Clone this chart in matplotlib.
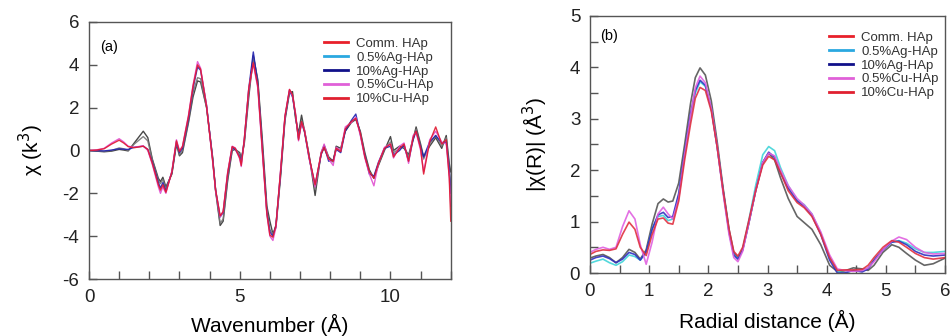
import matplotlib
matplotlib.use("Agg")
import matplotlib.pyplot as plt
from matplotlib.lines import Line2D
from matplotlib.ticker import MultipleLocator

plt.rcParams['font.family'] = ['Liberation Sans', 'DejaVu Sans']
plt.rcParams['axes.unicode_minus'] = False

# ---------------- data: panel (a) ----------------
k = [0, 0.25, 0.5, 0.75, 1.0, 1.15, 1.3, 1.5, 1.8, 1.95, 2.1, 2.3, 2.37, 2.45, 2.55, 2.75,
     2.9, 3.0, 3.1, 3.3, 3.45, 3.6, 3.7, 3.9, 4.1, 4.2, 4.35, 4.45, 4.6, 4.75, 4.85,
     5.0, 5.05, 5.15, 5.3, 5.45, 5.6, 5.75, 5.9, 6.0, 6.1, 6.2, 6.35, 6.5, 6.65, 6.75,
     6.85, 6.95, 7.05, 7.15, 7.3, 7.5, 7.7, 7.8, 7.95, 8.1, 8.2, 8.35, 8.5, 8.7, 8.85,
     9.0, 9.15, 9.3, 9.45, 9.6, 9.8, 10.0, 10.1, 10.3, 10.45, 10.6, 10.75, 10.85, 11.0,
     11.1, 11.3, 11.5, 11.7, 11.85, 11.95, 12.0]

chi_comm = [0, -0.03, -0.06, -0.03, 0.05, 0.02, -0.02, 0.35, 0.9, 0.6, -0.4, -1.3, -1.45,
            -1.25, -1.7, -1.1, 0.3, -0.25, -0.1, 1.3, 2.5, 3.25, 3.2, 2.0, -0.3, -1.9, -3.5,
            -3.3, -1.4, 0.0, 0.05, -0.1, -0.4, 0.3, 2.5, 4.4, 3.3, 0.5, -2.6, -3.3, -3.9,
            -3.6, -1.3, 1.4, 2.7, 2.75, 1.5, 0.8, 1.65, 0.9, -0.2, -2.1, -0.1, 0.25, -0.3,
            -0.5, 0.2, 0.1, 0.9, 1.3, 1.45, 0.9, -0.1, -0.9, -1.3, -0.7, 0.0, 0.65, 0.0, 0.2,
            0.1, -0.2, 0.5, 1.1, 0.3, -0.3, 0.2, 0.6, 0.1, 0.7, -0.6, -1.0]
chi_ag05 = [0, -0.02, -0.04, 0.0, 0.12, 0.08, 0.0, 0.3, 0.65, 0.45, -0.45, -1.4, -1.55,
            -1.35, -1.8, -1.05, 0.35, -0.2, 0.0, 1.4, 2.7, 3.4, 3.35, 2.0, -0.35, -1.85,
            -3.4, -3.2, -1.3, 0.05, 0.1, -0.2, -0.5, 0.4, 2.7, 4.45, 3.2, 0.3, -2.8, -3.7,
            -3.9, -3.5, -1.2, 1.5, 2.75, 2.6, 1.6, 0.6, 1.4, 0.95, -0.25, -1.8, -0.15, 0.1,
            -0.35, -0.55, 0.15, 0.0, 1.0, 1.35, 1.5, 0.85, -0.2, -1.0, -1.25, -0.65, 0.05,
            0.4, -0.1, 0.1, 0.2, -0.3, 0.6, 1.0, 0.2, -0.4, 0.3, 0.7, 0.2, 0.6, -0.8, -1.6]
chi_ag10 = [0, -0.01, -0.02, 0.02, 0.08, 0.06, 0.05, 0.15, 0.2, 0.05, -0.55, -1.5, -1.75,
            -1.5, -1.9, -1.0, 0.4, -0.1, 0.1, 1.5, 2.9, 3.9, 3.75, 2.1, -0.4, -1.85, -3.1,
            -2.9, -1.1, 0.15, 0.05, -0.3, -0.6, 0.5, 2.9, 4.6, 3.1, 0.1, -2.9, -3.8, -4.0,
            -3.5, -1.1, 1.55, 2.8, 2.5, 1.65, 0.55, 1.3, 0.85, -0.35, -1.6, -0.2, 0.2, -0.5,
            -0.45, 0.05, -0.1, 0.9, 1.4, 1.7, 0.75, -0.25, -1.1, -1.2, -0.55, 0.1, 0.2, -0.2,
            0.0, 0.25, -0.5, 0.5, 0.9, 0.15, -0.3, 0.4, 0.7, 0.35, 0.4, -0.9, -2.0]
chi_cu05 = [0, 0.03, 0.1, 0.35, 0.55, 0.4, 0.2, 0.15, 0.22, 0.0, -0.65, -1.7, -2.0, -1.7,
            -2.0, -0.95, 0.5, 0.0, 0.2, 1.65, 3.05, 4.15, 3.85, 2.1, -0.5, -1.9, -3.1, -2.85,
            -1.0, 0.2, 0.12, -0.4, -0.75, 0.5, 2.9, 4.05, 2.9, -0.1, -3.0, -4.0, -4.2, -3.6,
            -1.0, 1.6, 2.85, 2.55, 1.75, 0.45, 1.3, 0.95, -0.35, -1.7, -0.1, 0.3, -0.4, -0.7,
            0.15, 0.0, 1.1, 1.3, 1.55, 0.7, -0.35, -1.1, -1.65, -0.6, 0.15, 0.3, -0.35, 0.2,
            0.35, -0.6, 0.7, 0.85, 0.0, -1.0, 0.5, 0.9, 0.4, 0.3, -1.2, -2.6]
chi_cu10 = [0, 0.02, 0.08, 0.3, 0.48, 0.35, 0.18, 0.13, 0.2, 0.05, -0.6, -1.6, -1.85, -1.6,
            -1.95, -1.0, 0.45, -0.05, 0.18, 1.6, 3.0, 4.0, 3.8, 2.05, -0.45, -1.85, -3.05,
            -2.85, -1.05, 0.18, 0.1, -0.35, -0.7, 0.5, 2.9, 4.1, 3.0, 0.0, -2.95, -3.95,
            -4.05, -3.5, -1.05, 1.6, 2.85, 2.6, 1.7, 0.5, 1.35, 0.9, -0.3, -1.6, -0.15, 0.15,
            -0.4, -0.5, 0.1, -0.05, 1.0, 1.35, 1.5, 0.8, -0.3, -1.0, -1.3, -0.6, 0.1, 0.3,
            -0.3, 0.1, 0.3, -0.5, 0.6, 0.9, 0.1, -1.1, 0.4, 1.1, 0.3, 0.5, -1.3, -3.3]

# ---------------- data: panel (b) ----------------
R = [0, 0.1, 0.22, 0.33, 0.44, 0.55, 0.66, 0.76, 0.85, 0.95, 1.05, 1.15, 1.24, 1.32, 1.4,
     1.5, 1.6, 1.7, 1.78, 1.86, 1.95, 2.05, 2.15, 2.25, 2.35, 2.43, 2.5, 2.58, 2.68, 2.8,
     2.92, 3.02, 3.12, 3.22, 3.35, 3.5, 3.62, 3.75, 3.9, 4.05, 4.18, 4.3, 4.45, 4.6, 4.7,
     4.8, 4.95, 5.1, 5.22, 5.35, 5.5, 5.65, 5.8, 6.0]

ft_comm = [0.29, 0.33, 0.36, 0.30, 0.20, 0.30, 0.46, 0.40, 0.27, 0.45, 0.95, 1.35, 1.44,
           1.38, 1.40, 1.75, 2.50, 3.30, 3.80, 3.99, 3.85, 3.35, 2.55, 1.65, 0.85, 0.40,
           0.30, 0.45, 0.95, 1.60, 2.15, 2.33, 2.20, 1.85, 1.45, 1.10, 0.98, 0.85, 0.55,
           0.15, 0.03, 0.04, 0.10, 0.08, 0.05, 0.15, 0.40, 0.55, 0.50, 0.38, 0.25, 0.15,
           0.18, 0.29]
ft_ag05 = [0.19, 0.23, 0.27, 0.20, 0.15, 0.22, 0.35, 0.32, 0.25, 0.40, 0.85, 1.10, 1.12,
           1.02, 1.05, 1.50, 2.30, 3.05, 3.50, 3.72, 3.63, 3.20, 2.45, 1.60, 0.80, 0.35,
           0.28, 0.47, 1.00, 1.70, 2.30, 2.46, 2.38, 2.05, 1.70, 1.42, 1.33, 1.15, 0.78,
           0.30, 0.03, 0.00, 0.05, 0.05, 0.10, 0.25, 0.45, 0.60, 0.63, 0.58, 0.47, 0.40,
           0.40, 0.42]
ft_ag10 = [0.25, 0.30, 0.33, 0.28, 0.20, 0.27, 0.40, 0.36, 0.25, 0.42, 0.85, 1.13, 1.18,
           1.08, 1.10, 1.55, 2.35, 3.10, 3.55, 3.75, 3.65, 3.20, 2.45, 1.60, 0.80, 0.35,
           0.27, 0.45, 0.95, 1.60, 2.15, 2.35, 2.25, 1.95, 1.65, 1.40, 1.30, 1.12, 0.75,
           0.25, 0.00, 0.00, 0.05, 0.02, 0.08, 0.25, 0.45, 0.60, 0.62, 0.55, 0.42, 0.35,
           0.33, 0.35]
ft_cu05 = [0.40, 0.46, 0.50, 0.46, 0.50, 0.90, 1.21, 1.05, 0.55, 0.17, 0.60, 1.15, 1.28,
           1.15, 1.05, 1.45, 2.30, 3.05, 3.60, 3.83, 3.70, 3.20, 2.45, 1.55, 0.75, 0.30,
           0.22, 0.42, 0.95, 1.60, 2.15, 2.33, 2.28, 2.00, 1.70, 1.45, 1.32, 1.15, 0.80,
           0.35, 0.08, 0.05, 0.03, 0.05, 0.10, 0.22, 0.45, 0.62, 0.70, 0.65, 0.50, 0.40,
           0.37, 0.38]
ft_cu10 = [0.36, 0.42, 0.45, 0.44, 0.47, 0.75, 0.99, 0.85, 0.50, 0.34, 0.75, 1.05, 1.07,
           0.97, 0.95, 1.40, 2.20, 2.90, 3.40, 3.61, 3.55, 3.15, 2.45, 1.60, 0.85, 0.42,
           0.33, 0.50, 1.00, 1.60, 2.10, 2.27, 2.20, 1.95, 1.60, 1.37, 1.27, 1.10, 0.75,
           0.30, 0.05, 0.06, 0.06, 0.07, 0.15, 0.30, 0.50, 0.63, 0.60, 0.50, 0.38, 0.30,
           0.27, 0.30]

labels = ['Comm. HAp', '0.5%Ag-HAp', '10%Ag-HAp', '0.5%Cu-HAp', '10%Cu-HAp']
legend_colors = ['#e8202a', '#2aa8e0', '#10108a', '#e060d8', '#e02030']

# ---------------- figure ----------------
fig = plt.figure(figsize=(9.52, 3.36), dpi=100)
axa = fig.add_axes([0.0935, 0.1696, 0.380, 0.765])
axb = fig.add_axes([0.6197, 0.1875, 0.373, 0.765])

a_series = [chi_comm, chi_ag05, chi_ag10, chi_cu05, chi_cu10]
a_colors = ['#333333', '#777777', '#2020b0', '#e050d0', '#e01830']
for ys, c in zip(a_series, a_colors):
    axa.plot(k, ys, color=c, lw=1.0, alpha=0.9)

b_series = [ft_comm, ft_ag05, ft_ag10, ft_cu05, ft_cu10]
b_colors = ['#555555', '#40d4d8', '#3030c0', '#e060e0', '#e03040']
for ys, c in zip(b_series, b_colors):
    axb.plot(R, ys, color=c, lw=1.2, alpha=0.9)

for ax in (axa, axb):
    for s in ax.spines.values():
        s.set_color('#555555')
        s.set_linewidth(1.0)
    ax.tick_params(which='both', direction='in', colors='#555555', labelcolor='#222222',
                   labelsize=13.5, width=1.0)
    ax.tick_params(which='major', length=6, pad=7)
    ax.tick_params(which='minor', length=6)

axa.set_xlim(0, 12)
axa.set_ylim(-6, 6)
axa.xaxis.set_major_locator(MultipleLocator(5))
axa.xaxis.set_minor_locator(MultipleLocator(1))
axa.yaxis.set_major_locator(MultipleLocator(2))
axa.set_xlabel('Wavenumber (Å)', fontsize=15, labelpad=6)
axa.set_ylabel('χ (k$^3$)', fontsize=15, labelpad=12)
axa.text(0.03, 0.93, '(a)', transform=axa.transAxes, fontsize=10.5, va='top')

axb.set_xlim(0, 6)
axb.set_ylim(0, 5)
axb.xaxis.set_major_locator(MultipleLocator(1))
axb.xaxis.set_minor_locator(MultipleLocator(0.5))
axb.yaxis.set_major_locator(MultipleLocator(1))
axb.yaxis.set_minor_locator(MultipleLocator(0.5))
axb.set_xlabel('Radial distance (Å)', fontsize=15, labelpad=7)
axb.set_ylabel('|χ(R)| (Å$^3$)', fontsize=15, labelpad=14)
axb.text(0.03, 0.95, '(b)', transform=axb.transAxes, fontsize=10.5, va='top')

handles = [Line2D([], [], color=c, lw=2) for c in legend_colors]
axa.legend(handles, labels, loc='upper right', bbox_to_anchor=(0.985, 0.985), frameon=False,
           fontsize=9.5, handlelength=1.8, handletextpad=0.6, labelspacing=0.12,
           labelcolor='#333333')
axb.legend(handles, labels, loc='upper right', bbox_to_anchor=(1.015, 0.985), frameon=False,
           fontsize=9.5, handlelength=1.8, handletextpad=0.6, labelspacing=0.12,
           labelcolor='#333333')

fig.savefig('out.png', dpi=100)
